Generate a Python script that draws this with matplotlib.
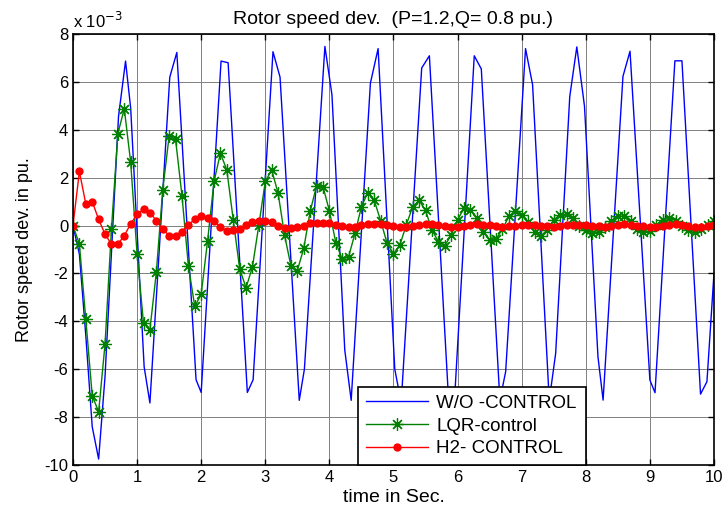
import numpy as np
import matplotlib
matplotlib.use('Agg')
import matplotlib.pyplot as plt

plt.rcParams['font.family'] = ['Liberation Sans', 'DejaVu Sans']
plt.rcParams['axes.unicode_minus'] = False

# W/O control: vertices (time in s, value in 1e-3 pu)
t_wo = [0.0, 0.1, 0.2, 0.3, 0.4, 0.5, 0.71, 0.82, 0.9, 1.11, 1.2, 1.51, 1.62,
        1.92, 2.0, 2.31, 2.42, 2.72, 2.81, 3.12, 3.23, 3.53, 3.61, 3.93, 4.04,
        4.24, 4.34, 4.64, 4.76, 5.02, 5.12, 5.44, 5.56, 5.86, 5.96, 6.26, 6.37,
        6.66, 6.75, 7.06, 7.17, 7.43, 7.53, 7.75, 7.86, 7.98, 8.19, 8.27, 8.58,
        8.69, 9.0, 9.08, 9.39, 9.5, 9.79, 9.89, 10.0]
wo_control = [0.0, -1.2, -4.6, -8.4, -9.75, -6.3, 4.55, 6.87, 4.9, -5.9, -7.41,
              6.2, 7.23, -6.44, -6.97, 6.87, 6.8, -6.97, -6.44, 7.26, 6.2, -7.3,
              -6.0, 7.48, 5.46, -5.2, -7.3, 5.95, 7.39, -6.0, -7.4, 6.58, 7.09,
              -7.3, -6.9, 7.09, 6.54, -7.3, -6.1, 7.39, 5.88, -7.3, -5.34, 5.39,
              7.46, 4.98, -5.48, -7.29, 6.23, 7.28, -6.45, -6.98, 6.88, 6.88,
              -7.04, -6.52, -2.0]

# LQR and H2 are sampled every 0.1 s
t = np.linspace(0, 10, 101)
lqr_control = [0.0, -0.78, -3.92, -7.1, -7.78, -4.95, -0.15, 3.84, 4.88, 2.64,
               -1.2, -4.07, -4.35, -1.96, 1.49, 3.74, 3.6, 1.25, -1.68, -3.38,
               -2.87, -0.63, 1.84, 3.02, 2.32, 0.24, -1.8, -2.6, -1.72, 0.03,
               1.84, 2.32, 1.35, -0.39, -1.69, -1.88, -0.95, 0.59, 1.66, 1.63,
               0.61, -0.71, -1.41, -1.3, -0.32, 0.79, 1.38, 1.05, 0.2, -0.74,
               -1.18, -0.81, 0.03, 0.79, 1.05, 0.63, -0.18, -0.67, -0.85, -0.39,
               0.24, 0.72, 0.66, 0.31, -0.25, -0.6, -0.57, -0.15, 0.38, 0.59,
               0.45, 0.13, -0.25, -0.43, -0.18, 0.24, 0.45, 0.47, 0.3, 0.0,
               -0.2, -0.3, -0.25, -0.05, 0.2, 0.38, 0.4, 0.17, -0.15, -0.29,
               -0.22, 0.03, 0.24, 0.31, 0.21, -0.01, -0.18, -0.25, -0.14, 0.03,
               0.17]
h2_control = [0.0, 2.26, 0.9, 1.0, 0.26, -0.36, -0.78, -0.78, -0.42, 0.07,
              0.47, 0.68, 0.54, 0.21, -0.15, -0.42, -0.42, -0.25, 0.03, 0.26,
              0.38, 0.31, 0.17, -0.07, -0.21, -0.18, -0.15, 0.03, 0.13, 0.21,
              0.21, 0.13, -0.01, -0.11, -0.11, -0.07, 0.0, 0.1, 0.12, 0.12,
              0.1, 0.03, -0.01, -0.04, -0.04, 0.03, 0.07, 0.08, 0.06, 0.03,
              -0.02, -0.05, -0.05, -0.02, 0.03, 0.06, 0.05, 0.02, -0.02, -0.04,
              -0.04, -0.01, 0.03, 0.05, 0.04, 0.01, -0.03, -0.04, -0.03, 0.0,
              0.03, 0.04, 0.03, 0.0, -0.03, -0.04, -0.02, 0.01, 0.04, 0.04,
              0.02, -0.01, -0.03, -0.04, -0.01, 0.03, 0.05, 0.04, 0.0, -0.03,
              -0.05, -0.04, 0.0, 0.04, 0.05, 0.02, -0.02, -0.05, -0.05, -0.02,
              0.02]

labels = ['W/O -CONTROL', 'LQR-control', 'H2- CONTROL']

fig = plt.figure(figsize=(7.27, 5.12), dpi=100)
ax = fig.add_axes([0.1004, 0.0918, 0.8817, 0.8418])

ax.plot(t_wo, wo_control, color='#0000ff', lw=1.0, label=labels[0])
ax.plot(t, lqr_control, color='#008000', lw=1.0, marker=(8, 2, 0),
        markersize=9, markeredgewidth=0.9, label=labels[1])
ax.plot(t, h2_control, color='#ff0000', lw=1.0, marker='o',
        markersize=6, markeredgewidth=0, label=labels[2])

ax.set_xlim(0, 10)
ax.set_ylim(-10, 8)
ax.set_xticks(range(0, 11))
ax.set_yticks(range(-10, 9, 2))
ax.grid(True, color='0.5', lw=0.7)
ax.tick_params(direction='in', top=True, right=True, labelsize=12,
               length=4, width=1)
for s in ax.spines.values():
    s.set_linewidth(1.2)

ax.text(0, 1.008, r'x 10$^{-3}$', transform=ax.transAxes, fontsize=12,
        ha='left', va='bottom')
ax.set_title('Rotor speed dev.  (P=1.2,Q= 0.8 pu.)', fontsize=14, pad=7)
ax.set_xlabel('time in Sec.', fontsize=14, labelpad=3)
ax.set_ylabel('Rotor speed dev. in pu.', fontsize=13, labelpad=8)

leg = ax.legend(loc='lower left', bbox_to_anchor=(0.445, 0.0, 0.355, 0.181),
                mode='expand', fontsize=13.5, handlelength=3.3,
                handletextpad=0.45, borderaxespad=0,
                fancybox=False, framealpha=1, edgecolor='k',
                labelspacing=0.3, borderpad=0.4)
leg.get_frame().set_linewidth(1.2)

fig.savefig('out.png', dpi=100)
